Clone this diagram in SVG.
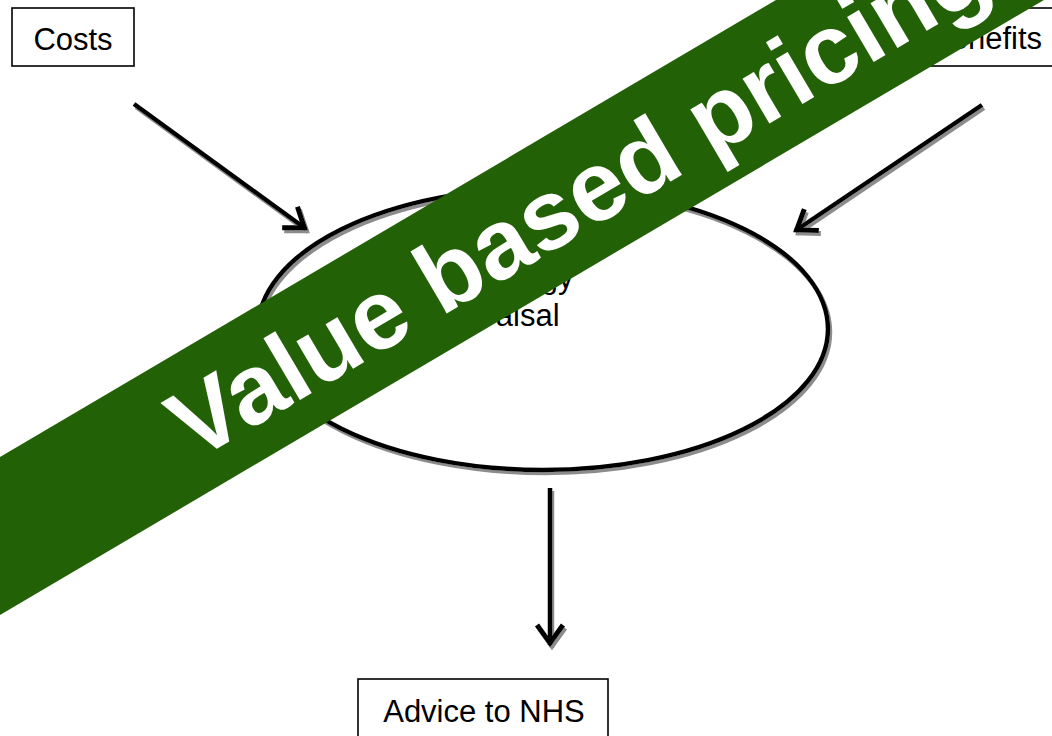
<svg xmlns="http://www.w3.org/2000/svg" width="1052" height="736" viewBox="0 0 1052 736">
  <style>
    .box { fill: #ffffff; stroke: #000000; stroke-width: 1.6; }
    .lbl { font-family: "Liberation Sans", Arial, sans-serif; font-size: 31px; fill: #000000; text-anchor: middle; }
    .conn { fill: none; stroke: #000000; stroke-width: 4.5; }
    .banner-text { font-family: "Liberation Sans", Arial, sans-serif; font-weight: bold; font-size: 99px; fill: #ffffff; text-anchor: middle; }
  </style>
  <defs>
    <filter id="shadow" x="-10%" y="-10%" width="120%" height="120%">
      <feFlood flood-color="#8c8c8c" result="c"/>
      <feComposite in="c" in2="SourceAlpha" operator="in" result="s"/>
      <feOffset in="s" dx="2" dy="3" result="so"/>
      <feMerge>
        <feMergeNode in="so"/>
        <feMergeNode in="SourceGraphic"/>
      </feMerge>
    </filter>
    <marker id="arrow" markerUnits="userSpaceOnUse" markerWidth="40" markerHeight="40" refX="0" refY="0" viewBox="-30 -20 40 40" orient="auto" overflow="visible">
      <path d="M-20,-13 L-2,0 L-20,13" fill="none" stroke="#000000" stroke-width="5" stroke-linejoin="miter"/>
    </marker>
  </defs>
  <rect width="1052" height="736" fill="#ffffff"/>

  <g id="connectors" filter="url(#shadow)">
    <line class="conn" x1="134" y1="104" x2="306" y2="229" marker-end="url(#arrow)"/>
    <line class="conn" x1="982" y1="105" x2="795" y2="231" marker-end="url(#arrow)"/>
    <line class="conn" x1="550" y1="488" x2="550" y2="645" marker-end="url(#arrow)"/>
  </g>

  <g id="appraisal">
    <ellipse cx="543" cy="329" rx="285" ry="141" fill="none" stroke="#000000" stroke-width="4.5" filter="url(#shadow)"/>
    <text class="lbl" x="495" y="288">Technology</text>
    <text class="lbl" x="495" y="326">Appraisal</text>
  </g>

  <g id="costs">
    <rect class="box" x="12" y="8" width="122" height="58"/>
    <text class="lbl" x="73" y="50">Costs</text>
  </g>

  <g id="benefits">
    <rect class="box" x="909" y="8" width="160" height="58"/>
    <text class="lbl" x="986" y="49">Benefits</text>
  </g>

  <g id="advice">
    <rect class="box" x="358" y="679" width="250" height="70"/>
    <text class="lbl" x="484" y="722">Advice to NHS</text>
  </g>

  <g id="banner" transform="translate(0,536) rotate(-30.5)">
    <rect x="-300" y="-68" width="1800" height="136" fill="#236106"/>
    <text class="banner-text" x="670" y="35">Value based pricing</text>
  </g>
</svg>
